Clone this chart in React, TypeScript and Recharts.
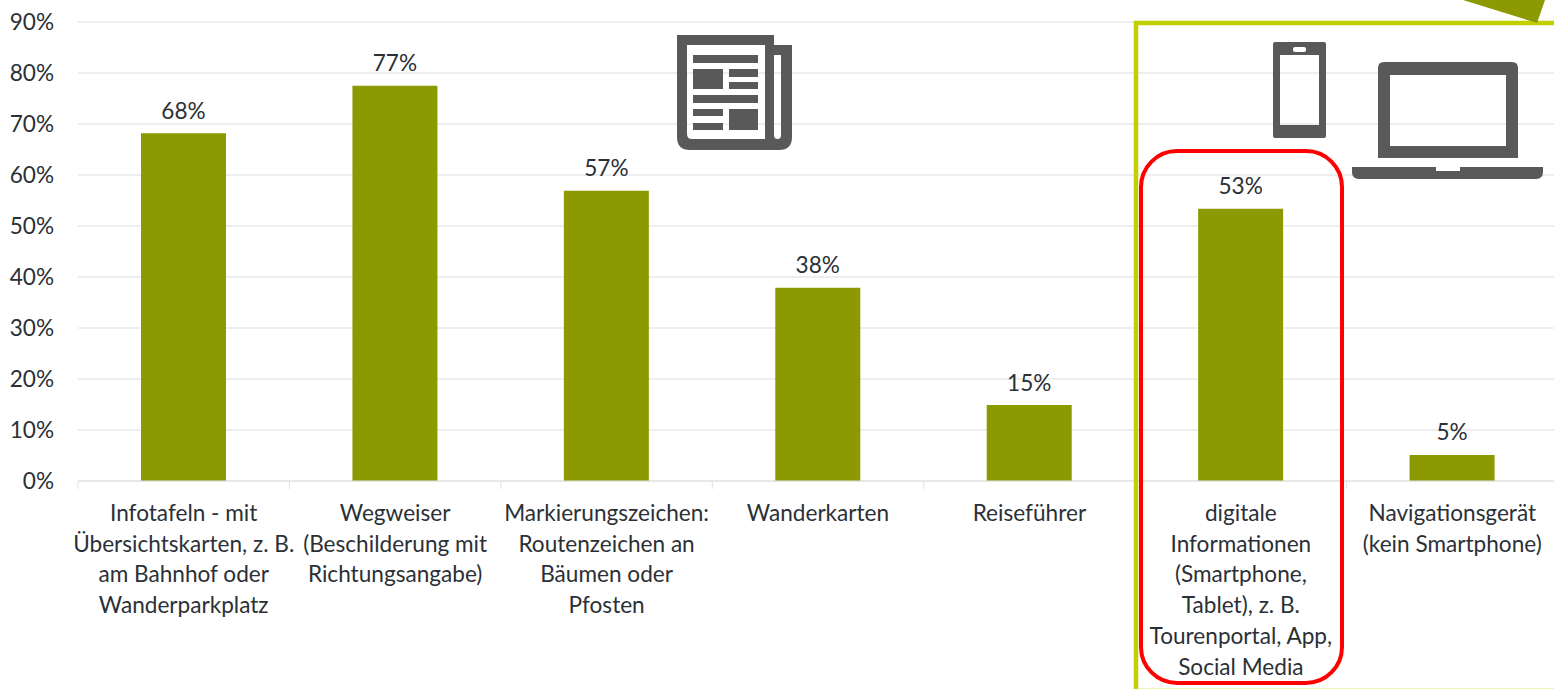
import React from "react";
import { BarChart, Bar, XAxis, YAxis, CartesianGrid, LabelList } from "recharts";

const categories = [
  "Infotafeln - mit Übersichtskarten, z. B. am Bahnhof oder Wanderparkplatz",
  "Wegweiser (Beschilderung mit Richtungsangabe)",
  "Markierungszeichen: Routenzeichen an Bäumen oder Pfosten",
  "Wanderkarten",
  "Reiseführer",
  "digitale Informationen (Smartphone, Tablet), z. B. Tourenportal, App, Social Media",
  "Navigationsgerät (kein Smartphone)",
];
const categoryLines = [
  ["Infotafeln - mit", "Übersichtskarten, z. B.", "am Bahnhof oder", "Wanderparkplatz"],
  ["Wegweiser", "(Beschilderung mit", "Richtungsangabe)"],
  ["Markierungszeichen:", "Routenzeichen an", "Bäumen oder", "Pfosten"],
  ["Wanderkarten"],
  ["Reiseführer"],
  ["digitale", "Informationen", "(Smartphone,", "Tablet), z. B.", "Tourenportal, App,", "Social Media"],
  ["Navigationsgerät", "(kein Smartphone)"],
];
const shares = [68.2, 77.5, 56.9, 37.9, 14.9, 53.4, 5.1];
const shareLabels = ["68%", "77%", "57%", "38%", "15%", "53%", "5%"];
const yTicks = [0, 10, 20, 30, 40, 50, 60, 70, 80, 90];

const data = categories.map((name, i) => ({ name, share: shares[i], label: shareLabels[i] }));

const FONT = "Lato, 'Open Sans', sans-serif";
const FONT_SIZE = 22.6;
const TEXT = "#2b3036";
const ICON = "#595959";
const OLIVE = "#8c9900";
const LIME = "#c3d000";
const CHART_W = 1570;
const PLOT_LEFT = 78;
const PLOT_RIGHT_MARGIN = 12;
const step = (CHART_W - PLOT_LEFT - PLOT_RIGHT_MARGIN) / categories.length;

const CategoryTick = (props: any) => {
  const { x, y, index } = props;
  const lines = categoryLines[index] || [];
  const axisY = y - 8;
  return (
    <g>
      <line x1={x - step / 2} x2={x - step / 2} y1={axisY} y2={axisY + 8} stroke="#e2e2e2" strokeWidth={1} />
      <text x={x} y={axisY} textAnchor="middle" fontFamily={FONT} fontSize={FONT_SIZE} fill={TEXT}>
        {lines.map((l: string, i: number) => (
          <tspan key={i} x={x} y={axisY + 40 + i * 30.7}>{l}</tspan>
        ))}
      </text>
    </g>
  );
};

const Overlay = () => (
  <svg width={1554} height={689} style={{ position: "absolute", left: 0, top: 0, pointerEvents: "none" }}>
    {/* highlight frame */}
    <path d="M1136 689 V23 H1554" fill="none" stroke={LIME} strokeWidth={4.5} />
    <line x1={1138} x2={1554} y1={688.5} y2={688.5} stroke="#eef3b8" strokeWidth={1} />
    <polygon points="1463,0 1537,23 1545,0" fill={OLIVE} />
    <rect x={1141} y={151} width={201} height={532} rx={36} ry={36} fill="none" stroke="#ff0000" strokeWidth={4} />
    {/* newspaper */}
    <path fillRule="evenodd" fill={ICON} d="M677 35 H774 V45 H792 V137 Q792 150 779 150 H690 Q677 150 677 137 Z M687 45 V134 Q687 139 692 139 H765 V45 Z M774 55 V135 Q774 139 777.5 139 Q781 139 781 135 V55 Z" />
    <g fill={ICON}>
      <rect x={693} y={55} width={65} height={8} />
      <rect x={693} y={69} width={30} height={20} />
      <rect x={729} y={69} width={29} height={8} />
      <rect x={729} y={82} width={29} height={7} />
      <rect x={693} y={95} width={65} height={8} />
      <rect x={693} y={109} width={30} height={7} />
      <rect x={693} y={123} width={30} height={7} />
      <rect x={729} y={109} width={29} height={21} />
    </g>
    {/* phone */}
    <path fillRule="evenodd" fill={ICON} d="M1275 42 H1324 Q1326 42 1326 44 V136 Q1326 138 1324 138 H1275 Q1273 138 1273 136 V44 Q1273 42 1275 42 Z M1280 55 V125 H1319 V55 Z" />
    <rect x={1293} y={47} width={13} height={5} rx={2} fill="#fff" />
    {/* laptop */}
    <path fillRule="evenodd" fill={ICON} d="M1384 62 H1512 Q1518 62 1518 68 V158 H1378 V68 Q1378 62 1384 62 Z M1390 75 V146 H1506 V75 Z" />
    <path fill={ICON} d="M1352 167 H1436 V171 H1460 V167 H1543 V172 Q1543 179 1536 179 H1359 Q1352 179 1352 172 Z" />
  </svg>
);

export default function App() {
  return (
    <div style={{ position: "absolute", left: 0, top: 0, width: 1554, height: 689, overflow: "hidden", background: "#fff" }}>
      <BarChart
        width={CHART_W}
        height={689}
        data={data}
        barSize={85}
        margin={{ top: 22, right: PLOT_RIGHT_MARGIN, bottom: 0, left: 0 }}
      >
        <CartesianGrid horizontal vertical={false} stroke="#eeeeee" strokeWidth={2} />
        <XAxis
          dataKey="name"
          interval={0}
          height={208}
          axisLine={{ stroke: "#e2e2e2", strokeWidth: 1 }}
          tickLine={false}
          tick={<CategoryTick />}
        />
        <YAxis
          width={PLOT_LEFT}
          domain={[0, 90]}
          ticks={yTicks}
          interval={0}
          axisLine={false}
          tickLine={false}
          tickMargin={18}
          tickFormatter={(v: number) => `${v}%`}
          tick={{ fontFamily: FONT, fontSize: FONT_SIZE, fill: TEXT }}
        />
        <Bar dataKey="share" fill={OLIVE} isAnimationActive={false}>
          <LabelList dataKey="label" position="top" offset={14.5} fontFamily={FONT} fontSize={FONT_SIZE} fill={TEXT} />
        </Bar>
      </BarChart>
      <Overlay />
    </div>
  );
}
